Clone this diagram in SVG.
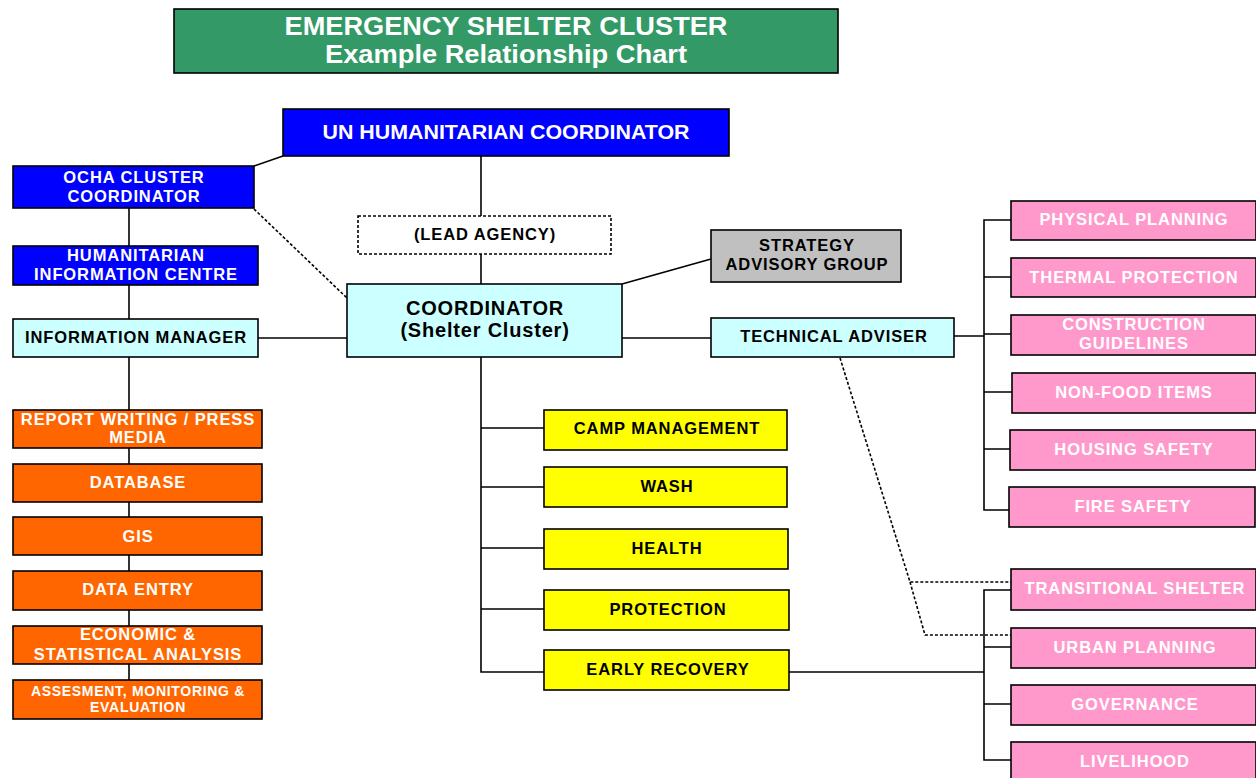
<svg xmlns="http://www.w3.org/2000/svg" width="1256" height="778" viewBox="0 0 1256 778">
<style>
rect{stroke:#000;stroke-width:1.6}
text{font-family:"Liberation Sans",Arial,sans-serif;font-weight:bold;text-anchor:middle}
.w{fill:#fff}.k{fill:#000}
.s15{font-size:16.5px;letter-spacing:0.9px}
.s13{font-size:14px;letter-spacing:0.7px}
.s20{font-size:20px;letter-spacing:0.8px}
.blue{fill:#0000FF}.cyan{fill:#CCFFFF}.org{fill:#FF6600}.yel{fill:#FFFF00}.pink{fill:#FF99CC}.gray{fill:#C0C0C0}
.ln{stroke:#000;stroke-width:1.6;fill:none}
.dot{stroke:#000;stroke-width:1.6;fill:none;stroke-dasharray:3 2}
</style>
<g id="connectors">
<line class="ln" x1="254" y1="166" x2="283" y2="156"/>
<line class="dot" x1="254" y1="209" x2="347" y2="298"/>
<line class="ln" x1="129" y1="208" x2="129" y2="246"/>
<line class="ln" x1="129" y1="285" x2="129" y2="319"/>
<line class="ln" x1="129" y1="357" x2="129" y2="680"/>
<line class="ln" x1="258" y1="338" x2="347" y2="338"/>
<line class="ln" x1="481" y1="156" x2="481" y2="216"/>
<line class="ln" x1="481" y1="254" x2="481" y2="284"/>
<line class="ln" x1="622" y1="284" x2="711" y2="259"/>
<line class="ln" x1="622" y1="338" x2="711" y2="338"/>
<path class="ln" d="M481 357V672H544M481 428H544M481 487H544M481 548H544M481 609H544"/>
<path class="ln" d="M954 336H984M1011 220H984V510H1009M984 277H1011M984 334H1011M984 392H1012M984 449H1010"/>
<path class="ln" d="M789 672H984M1011 590H984V760H1011M984 647H1011M984 704H1011"/>
<path class="dot" d="M840 358L910 582H1011M910 582L925 635H1011"/>
</g>
<g id="title">
<rect x="174" y="9" width="664" height="64" fill="#339966"/>
<text class="w" x="506" y="35" font-size="25" textLength="443" lengthAdjust="spacingAndGlyphs">EMERGENCY SHELTER CLUSTER</text>
<text class="w" x="506" y="63" font-size="25" textLength="362" lengthAdjust="spacingAndGlyphs">Example Relationship Chart</text>
</g>
<g id="un-hc">
<rect class="blue" x="283" y="109" width="446" height="47"/>
<text class="w" x="506" y="139" font-size="20" textLength="367" lengthAdjust="spacingAndGlyphs">UN HUMANITARIAN COORDINATOR</text>
</g>
<g id="ocha">
<rect class="blue" x="13" y="166" width="241" height="42"/>
<text class="w s15" x="134" y="183">OCHA CLUSTER</text>
<text class="w s15" x="134" y="202">COORDINATOR</text>
</g>
<g id="hic">
<rect class="blue" x="13" y="246" width="245" height="39"/>
<text class="w s15" x="136" y="261">HUMANITARIAN</text>
<text class="w s15" x="136" y="280">INFORMATION CENTRE</text>
</g>
<g id="info-manager">
<rect class="cyan" x="13" y="319" width="245" height="38"/>
<text class="k s15" x="136" y="343">INFORMATION MANAGER</text>
</g>
<g id="report-writing">
<rect class="org" x="13" y="410" width="249" height="38"/>
<text class="w s15" x="138" y="425">REPORT WRITING / PRESS</text>
<text class="w s15" x="138" y="443">MEDIA</text>
</g>
<g id="database">
<rect class="org" x="13" y="464" width="249" height="38"/>
<text class="w s15" x="138" y="488">DATABASE</text>
</g>
<g id="gis">
<rect class="org" x="13" y="517" width="249" height="38"/>
<text class="w s15" x="138" y="542">GIS</text>
</g>
<g id="data-entry">
<rect class="org" x="13" y="571" width="249" height="39"/>
<text class="w s15" x="138" y="595">DATA ENTRY</text>
</g>
<g id="economic">
<rect class="org" x="13" y="626" width="249" height="38"/>
<text class="w s15" x="138" y="640">ECONOMIC &amp;</text>
<text class="w s15" x="138" y="660">STATISTICAL ANALYSIS</text>
</g>
<g id="assessment">
<rect class="org" x="13" y="680" width="249" height="39"/>
<text class="w s13" x="138" y="696">ASSESMENT, MONITORING &amp;</text>
<text class="w s13" x="138" y="712">EVALUATION</text>
</g>
<g id="lead-agency">
<rect x="358" y="216" width="253" height="38" fill="#fff" stroke-dasharray="3 2"/>
<text class="k s15" x="485" y="240">(LEAD AGENCY)</text>
</g>
<g id="coordinator">
<rect class="cyan" x="347" y="284" width="275" height="73"/>
<text class="k s20" x="485" y="315">COORDINATOR</text>
<text class="k s20" x="485" y="337">(Shelter Cluster)</text>
</g>
<g id="strategy">
<rect class="gray" x="711" y="230" width="190" height="52"/>
<text class="k s15" x="807" y="251">STRATEGY</text>
<text class="k s15" x="807" y="270">ADVISORY GROUP</text>
</g>
<g id="technical-adviser">
<rect class="cyan" x="711" y="318" width="243" height="39"/>
<text class="k s15" x="834" y="342">TECHNICAL ADVISER</text>
</g>
<g id="camp-management">
<rect class="yel" x="544" y="410" width="243" height="40"/>
<text class="k s15" x="667" y="434">CAMP MANAGEMENT</text>
</g>
<g id="wash">
<rect class="yel" x="544" y="467" width="243" height="40"/>
<text class="k s15" x="667" y="492">WASH</text>
</g>
<g id="health">
<rect class="yel" x="544" y="529" width="244" height="40"/>
<text class="k s15" x="667" y="554">HEALTH</text>
</g>
<g id="protection">
<rect class="yel" x="544" y="590" width="245" height="40"/>
<text class="k s15" x="668" y="615">PROTECTION</text>
</g>
<g id="early-recovery">
<rect class="yel" x="544" y="650" width="245" height="40"/>
<text class="k s15" x="668" y="675">EARLY RECOVERY</text>
</g>
<g id="physical-planning">
<rect class="pink" x="1011" y="201" width="245" height="39"/>
<text class="w s15" x="1134" y="225">PHYSICAL PLANNING</text>
</g>
<g id="thermal-protection">
<rect class="pink" x="1011" y="258" width="245" height="39"/>
<text class="w s15" x="1134" y="283">THERMAL PROTECTION</text>
</g>
<g id="construction-guidelines">
<rect class="pink" x="1011" y="315" width="245" height="40"/>
<text class="w s15" x="1134" y="330">CONSTRUCTION</text>
<text class="w s15" x="1134" y="349">GUIDELINES</text>
</g>
<g id="non-food-items">
<rect class="pink" x="1012" y="373" width="244" height="40"/>
<text class="w s15" x="1134" y="398">NON-FOOD ITEMS</text>
</g>
<g id="housing-safety">
<rect class="pink" x="1010" y="430" width="246" height="40"/>
<text class="w s15" x="1134" y="455">HOUSING SAFETY</text>
</g>
<g id="fire-safety">
<rect class="pink" x="1009" y="487" width="246" height="40"/>
<text class="w s15" x="1133" y="512">FIRE SAFETY</text>
</g>
<g id="transitional-shelter">
<rect class="pink" x="1011" y="569" width="245" height="41"/>
<text class="w s15" x="1135" y="594">TRANSITIONAL SHELTER</text>
</g>
<g id="urban-planning">
<rect class="pink" x="1011" y="628" width="245" height="40"/>
<text class="w s15" x="1135" y="653">URBAN PLANNING</text>
</g>
<g id="governance">
<rect class="pink" x="1011" y="685" width="245" height="40"/>
<text class="w s15" x="1135" y="710">GOVERNANCE</text>
</g>
<g id="livelihood">
<rect class="pink" x="1011" y="742" width="245" height="40"/>
<text class="w s15" x="1135" y="767">LIVELIHOOD</text>
</g>
</svg>
